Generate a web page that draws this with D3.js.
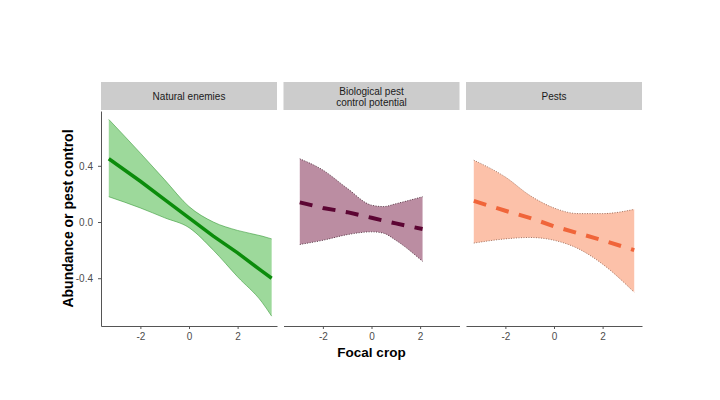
<!DOCTYPE html>
<html lang="en">
<head>
<meta charset="UTF-8">
<title>Focal crop effects</title>
<script src="https://d3js.org/d3.v7.min.js"></script>
<style>
  body { margin: 0; background: #fff; }
  svg { font-family: "Liberation Sans", Arial, sans-serif; }
</style>
</head>
<body>
<svg width="720" height="400"></svg>
<script>
// panel titles
var panelTitles = [["Natural enemies"], ["Biological pest", "control potential"], ["Pests"]];

// natural enemies
var neX     = [-3.3, -2, -1, 0, 1, 2, 3, 3.4];
var neFit   = [0.45, 0.29, 0.16, 0.03, -0.10, -0.22, -0.35, -0.40];
var neUpper = [0.73, 0.49, 0.30, 0.11, 0.00, -0.06, -0.10, -0.12];
var neLower = [0.18, 0.10, 0.03, -0.04, -0.20, -0.39, -0.57, -0.67];

// biological pest control potential
var bpcX     = [-2.95, -2, -1, 0, 0.5, 1, 2.1];
var bpcFit   = [0.14, 0.10, 0.07, 0.03, 0.01, -0.01, -0.05];
var bpcUpper = [0.45, 0.37, 0.24, 0.12, 0.11, 0.13, 0.18];
var bpcLower = [-0.16, -0.13, -0.09, -0.07, -0.08, -0.13, -0.28];

// pests
var pX     = [-3.3, -2, -1, 0, 1, 2, 3.3];
var pFit   = [0.15, 0.08, 0.03, -0.03, -0.08, -0.13, -0.20];
var pUpper = [0.44, 0.32, 0.19, 0.10, 0.06, 0.06, 0.09];
var pLower = [-0.15, -0.12, -0.11, -0.13, -0.19, -0.30, -0.50];

var xTicks = [-2, 0, 2];
var yTicks = [-0.4, 0.0, 0.4];

var panels = [
  {x: neX, fit: neFit, lo: neLower, hi: neUpper, fill: "#9dd99b", line: "#0b8c0b", edge: "#3a9a3a", dashed: false},
  {x: bpcX, fit: bpcFit, lo: bpcLower, hi: bpcUpper, fill: "#bb8da2", line: "#5c0533", edge: "#3a1a28", dashed: true},
  {x: pX, fit: pFit, lo: pLower, hi: pUpper, fill: "#fcc1a9", line: "#f0653a", edge: "#8a5a48", dashed: true}
];

var svg = d3.select("svg");
var panelW = 176, panelStep = 182.5, left0 = 101;
var stripTop = 82, plotTop = 111, plotBottom = 326;

var x = d3.scaleLinear().domain([-3.62, 3.62]).range([0, panelW]);
var y = d3.scaleLinear().domain([-0.74, 0.79]).range([plotBottom - plotTop, 0]);

// R prints a plain hyphen for negatives
var fmtX = function(d) { return String(d); };
var fmtY = function(d) { return d.toFixed(1); };

panels.forEach(function(p, i) {
  var rows = p.x.map(function(v, j) { return {x: v, fit: p.fit[j], lo: p.lo[j], hi: p.hi[j]}; });
  var g = svg.append("g").attr("transform", "translate(" + (left0 + i * panelStep) + "," + plotTop + ")");

  // strip
  svg.append("rect")
    .attr("x", left0 + i * panelStep).attr("y", stripTop)
    .attr("width", panelW).attr("height", plotTop - stripTop - 1)
    .attr("fill", "#cccccc");
  var lines = panelTitles[i];
  lines.forEach(function(t, k) {
    svg.append("text")
      .attr("x", left0 + i * panelStep + panelW / 2)
      .attr("y", (stripTop + plotTop) / 2 + 3.5 + (k - (lines.length - 1) / 2) * 11)
      .attr("text-anchor", "middle")
      .attr("font-size", "10px")
      .attr("fill", "#1a1a1a")
      .text(t);
  });

  // ribbon
  var area = d3.area().curve(d3.curveMonotoneX)
    .x(function(d) { return x(d.x); })
    .y0(function(d) { return y(d.lo); })
    .y1(function(d) { return y(d.hi); });
  g.append("path").datum(rows).attr("d", area).attr("fill", p.fill);

  ["lo", "hi"].forEach(function(k) {
    var edge = d3.line().curve(d3.curveMonotoneX)
      .x(function(d) { return x(d.x); })
      .y(function(d) { return y(d[k]); });
    g.append("path").datum(rows).attr("d", edge)
      .attr("fill", "none").attr("stroke", p.edge)
      .attr("stroke-width", p.dashed ? 0.8 : 0.6)
      .attr("stroke-dasharray", p.dashed ? "1,1.5" : null);
  });

  // fitted line
  var fitLine = d3.line()
    .x(function(d) { return x(d.x); })
    .y(function(d) { return y(d.fit); });
  g.append("path").datum(rows).attr("d", fitLine)
    .attr("fill", "none").attr("stroke", p.line)
    .attr("stroke-width", p.dashed ? 4 : 3.5)
    .attr("stroke-dasharray", p.dashed ? "13,10.5" : null);

  // x axis
  var xAxis = g.append("g").attr("transform", "translate(0," + (plotBottom - plotTop) + ")")
    .call(d3.axisBottom(x).tickValues(xTicks).tickSize(3).tickSizeOuter(0).tickPadding(4).tickFormat(fmtX));
  xAxis.select(".domain").attr("stroke", "#555").attr("stroke-width", 1);
  xAxis.selectAll(".tick line").attr("stroke", "#555");
  xAxis.selectAll(".tick text").attr("fill", "#4d4d4d").attr("font-size", "10px")
    .attr("font-family", "Liberation Sans, Arial, sans-serif");

  if (i === 0) {
    var yAxis = g.append("g")
      .call(d3.axisLeft(y).tickValues(yTicks).tickSize(3).tickSizeOuter(0).tickPadding(5).tickFormat(fmtY));
    yAxis.select(".domain").attr("stroke", "#555").attr("stroke-width", 1);
    yAxis.selectAll(".tick line").attr("stroke", "#555");
    yAxis.selectAll(".tick text").attr("fill", "#4d4d4d").attr("font-size", "10px")
      .attr("font-family", "Liberation Sans, Arial, sans-serif");
  }
});

// axis titles
svg.append("text")
  .attr("x", left0 + panelStep + panelW / 2).attr("y", 357)
  .attr("text-anchor", "middle").attr("font-size", "13.5px").attr("font-weight", "bold")
  .attr("fill", "#000").text("Focal crop");

svg.append("text")
  .attr("transform", "translate(73," + ((plotTop + plotBottom) / 2) + ") rotate(-90)")
  .attr("text-anchor", "middle").attr("font-size", "14px").attr("font-weight", "bold")
  .attr("fill", "#000").text("Abundance or pest control");
</script>
</body>
</html>
